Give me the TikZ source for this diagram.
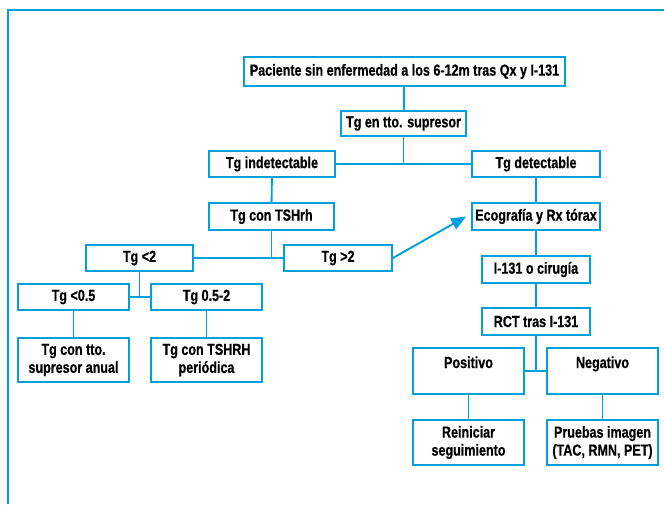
\documentclass[tikz,border=0pt]{standalone}
\usepackage{fontspec}
\newfontfamily\cbf[FakeStretch=0.785, FakeBold=0.6]{Liberation Sans}
\usetikzlibrary{arrows.meta}
\definecolor{linec}{RGB}{0,160,222}
\tikzset{
  box/.style={draw=linec, line width=1.8pt, inner sep=0pt, align=center,
    font=\cbf\bfseries\fontsize{16}{18}\selectfont},
  bx/.style 2 args={box, minimum width=#1pt, minimum height=#2pt},
  conn/.style={draw=linec, line width=1.9pt},
  tophold/.style={text height=20pt, text depth=26pt},
}
\begin{document}
\begin{tikzpicture}[x=1pt, y=-1pt]
\useasboundingbox (0,0) rectangle (664,504);
% open frame: top and left edges only
\draw[draw=linec, line width=2pt] (7.5,504) -- (7.5,9.5) -- (664,9.5);

% boxes
\node[bx={321}{29}] (A) at (404.5,71.5) {Paciente sin enfermedad a los 6-12m tras Qx y I-131};
\node[bx={125}{25}] (B) at (403.5,123.5) {Tg en tto. supresor};
\node[bx={126}{26}] (C) at (272,164) {Tg indetectable};
\node[bx={128}{26}] (D) at (536,164) {Tg detectable};
\node[bx={125}{27}] (E) at (271.5,216.5) {Tg con TSHrh};
\node[bx={128}{27}] (F) at (536,216.5) {Ecografía y Rx tórax};
\node[bx={107}{26}] (G) at (139.5,258) {Tg {<}2};
\node[bx={108}{26}] (H) at (338,258) {Tg {>}2};
\node[bx={108}{27}] (I) at (536,269.5) {I-131 o cirugía};
\node[bx={111}{26}] (J) at (73.5,297) {Tg {<}0.5};
\node[bx={111}{26}] (K) at (206.5,297) {Tg 0.5-2};
\node[bx={108}{27}] (L) at (536,321.5) {RCT tras I-131};
\node[bx={111}{44}] (M) at (73.5,360) {Tg con tto.\\supresor anual};
\node[bx={111}{44}] (N) at (206.5,360) {Tg con TSHRH\\periódica};
\node[box, minimum width=111pt, tophold] (O) at (468.5,371) {Positivo};
\node[box, minimum width=111pt, tophold] (P) at (602.5,371) {Negativo};
\node[bx={111}{45}] (Q) at (468.5,442.5) {Reiniciar\\seguimiento};
\node[bx={111}{45}] (R) at (602.5,442.5) {Pruebas imagen\\(TAC, RMN, PET)};

% connectors
\draw[conn] (A) -- (B);
\draw[conn] (B.south) -- (B.south |- C.east);
\draw[conn] (C.east) -- (D.west);
\draw[conn] (C) -- (E);
\draw[conn] (E.south) -- (E.south |- G.east);
\draw[conn] (G.east) -- (H.west);
\draw[conn] (D) -- (F);
\draw[conn] (F) -- (I);
\draw[conn] (I) -- (L);
\draw[conn, -{Triangle[length=15pt,width=12pt]}] (H.east) -- ([xshift=-5pt]F.west);
\draw[conn] (G.south) -- (G.south |- J.east);
\draw[conn] (J.east) -- (K.west);
\draw[conn] (J) -- (M);
\draw[conn] (K) -- (N);
\draw[conn] (L.south) -- (L.south |- O.east);
\draw[conn] (O.east) -- (P.west);
\draw[conn] (O) -- (Q);
\draw[conn] (P) -- (R);
\end{tikzpicture}
\end{document}
